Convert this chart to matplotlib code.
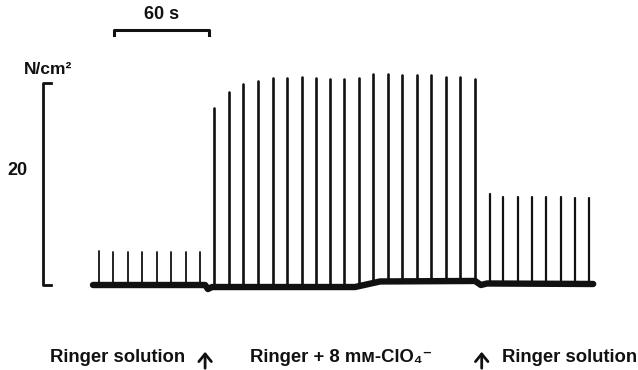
import numpy as np
import matplotlib
matplotlib.use("Agg")
import matplotlib.pyplot as plt

plt.rcParams['font.family'] = ['Liberation Sans', 'DejaVu Sans']

# twitch times (s) and peak tension (N/cm2)
t_ringer1 = [3.8, 12.9, 22.1, 31.0, 40.4, 49.3, 58.8, 67.6]
f_ringer1 = [3.4, 3.3, 3.3, 3.3, 3.3, 3.3, 3.3, 3.3]

t_clo4 = [76.4, 85.9, 94.8, 104.2, 113.7, 122.6, 132.0, 140.9, 149.7, 158.6,
          168.0, 176.9, 186.4, 195.2, 204.7, 213.5, 223.0, 231.8, 241.3]
f_clo4 = [17.5, 19.1, 19.9, 20.2, 20.5, 20.5, 20.6, 20.5, 20.4, 20.4,
          20.5, 20.9, 20.9, 20.8, 20.8, 20.8, 20.6, 20.6, 20.4]

t_ringer2 = [250.5, 259.0, 268.5, 277.3, 286.2, 295.7, 304.5, 313.3]
f_ringer2 = [9.0, 8.7, 8.7, 8.7, 8.7, 8.7, 8.6, 8.6]

# resting baseline
base_t = [0, 70.8, 72.6, 75.2, 165.5, 181.3, 241.3, 245.0, 248.9, 315.9]
base_f = [0, 0, -0.4, -0.2, -0.2, 0.35, 0.4, 0.0, 0.15, 0.1]

# solution changes
t_change = [70.8, 245.5]

fig = plt.figure(figsize=(6.38, 3.70), dpi=100)
ax = fig.add_axes([0, 0, 1, 1])
# pixel mapping: 95 px = 60 s, 10.1 px = 1 N/cm2
kx = 95 / 60
ky = 10.1
ax.set_xlim(-93 / kx, (638 - 93) / kx)
ax.set_ylim((285 - 370) / ky, 285 / ky)
ax.axis('off')

col = '#111111'
for ts, fs, lw in [(t_ringer1, f_ringer1, 1.3), (t_clo4, f_clo4, 1.9), (t_ringer2, f_ringer2, 1.6)]:
    b = np.interp(ts, base_t, base_f)
    ax.vlines(ts, b, fs, color=col, lw=lw, capstyle='round')

ax.plot(base_t, base_f, color=col, lw=4.6, solid_capstyle='round', solid_joinstyle='round')

# tension scale bar (20 N/cm2)
sx = (43 - 93) / kx
ax.plot([sx + 5, sx, sx, sx + 5], [20, 20, 0, 0], color=col, lw=2)
ax.text(sx + 3, 20.6, 'N/cm²', ha='center', va='bottom', fontsize=12.5, fontweight='bold', color=col)
ax.text(sx - 16, 11.3, '20', ha='center', va='center', fontsize=13, fontweight='bold', color=col)

# time scale bar (60 s)
tx0 = (114 - 93) / kx
ty = (285 - 30) / ky
ax.plot([tx0, tx0, tx0 + 60, tx0 + 60], [ty - 0.5, ty, ty, ty - 0.5], color=col, lw=2.2)
ax.text(tx0 + 30, ty + 0.7, '60 s', ha='center', va='bottom', fontsize=13, fontweight='bold', color=col)

# solution labels
yl = (285 - 357) / ky
fs_lab = 13.3
ax.text((50 - 93) / kx, yl, 'Ringer solution', ha='left', va='center', fontsize=fs_lab, fontweight='bold', color=col)
ax.text((250 - 93) / kx, yl, 'Ringer + 8 m\u1d0d-ClO\u2084\u207b', ha='left', va='center', fontsize=fs_lab, fontweight='bold', color=col)
ax.text((637 - 93) / kx, yl, 'Ringer solution', ha='right', va='center', fontsize=fs_lab, fontweight='bold', color=col)
for tc in t_change:
    ax.annotate('', xy=(tc, (285 - 349) / ky), xytext=(tc, (285 - 371) / ky),
                arrowprops=dict(arrowstyle='->,head_length=0.55,head_width=0.45', color=col, lw=2))

fig.savefig('out.png', dpi=100)
